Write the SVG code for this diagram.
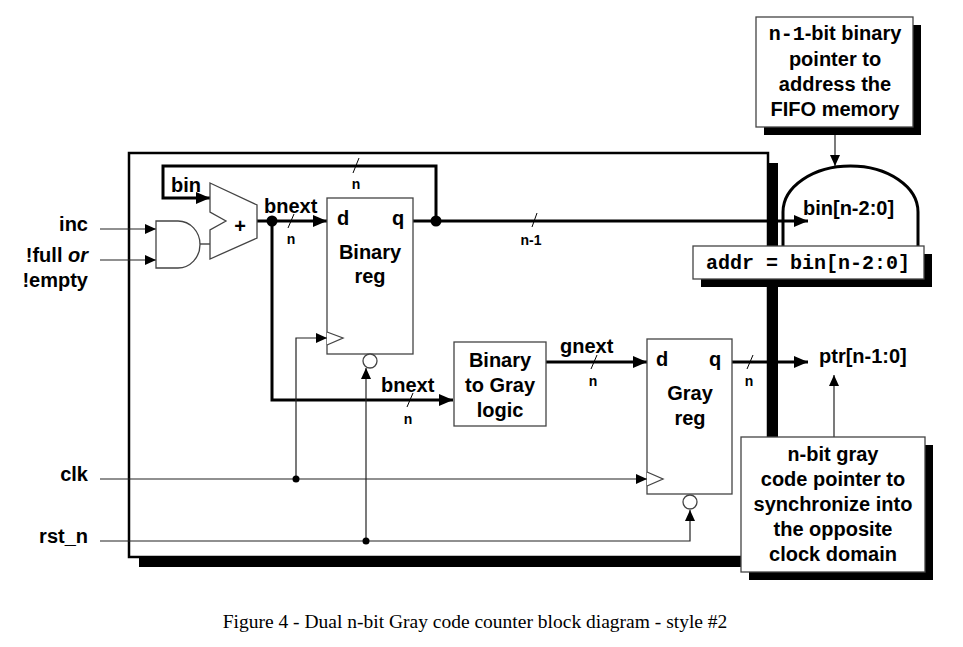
<svg xmlns="http://www.w3.org/2000/svg" width="963" height="647" viewBox="0 0 963 647">
<style>
.t{font-family:"Liberation Sans",Arial,sans-serif;font-weight:bold;font-size:20px;fill:#000}
.m{font-family:"Liberation Mono","Courier New",monospace;font-weight:bold;font-size:20px;fill:#000}
.s{font-family:"Liberation Sans",Arial,sans-serif;font-weight:bold;font-size:14px;fill:#000}
.c{font-family:"Liberation Serif","Times New Roman",serif;font-size:19.5px;fill:#000}
.box{fill:#fff;stroke:#444;stroke-width:1.3}
.thick{fill:none;stroke:#000;stroke-width:3}
.thin{fill:none;stroke:#222;stroke-width:1.2}
.sl{stroke:#000;stroke-width:1}
.sh{fill:#000}
</style>
<defs>
<marker id="ab" markerUnits="userSpaceOnUse" markerWidth="14" markerHeight="12" refX="14" refY="6" orient="auto"><path d="M0,0 L14,6 L0,12 z" fill="#000"/></marker>
<marker id="as" markerUnits="userSpaceOnUse" markerWidth="11" markerHeight="10" refX="11" refY="5" orient="auto"><path d="M0,0 L11,5 L0,10 z" fill="#000"/></marker>
</defs>
<rect width="963" height="647" fill="#fff"/>
<g id="frame">
<rect x="139" y="163" width="639" height="404" class="sh"/>
<rect x="129" y="153" width="639" height="404" fill="#fff" stroke="#000" stroke-width="2.5"/>
</g>
<g id="connectors">
<path class="thin" d="M100,229 H156" marker-end="url(#as)"/>
<path class="thin" d="M100,260 H156" marker-end="url(#as)"/>
<path class="thin" d="M195,244 H210"/>
<path class="thick" d="M436,221 V166 H163 V198 H210" marker-end="url(#ab)"/>
<path class="thick" d="M257,221 H327" marker-end="url(#ab)"/>
<path class="thick" d="M272,221 V400 H453" marker-end="url(#ab)"/>
<path class="thick" d="M413,221 H808" marker-end="url(#ab)"/>
<path class="thick" d="M546,362 H647" marker-end="url(#ab)"/>
<path class="thick" d="M732,362 H808" marker-end="url(#ab)"/>
<path class="thin" d="M100,479 H647" marker-end="url(#as)"/>
<path class="thin" d="M296,479 V338 H327" marker-end="url(#as)"/>
<path class="thin" d="M100,541 H690 V510" marker-end="url(#as)"/>
<path class="thin" d="M366,541 V368" marker-end="url(#as)"/>
<path class="thin" d="M835,127 V166" marker-end="url(#as)"/>
<path class="thin" d="M834,437 V375" marker-end="url(#as)"/>
<circle cx="436" cy="221" r="5.5" fill="#000"/>
<circle cx="272" cy="221" r="5.5" fill="#000"/>
<circle cx="296" cy="479" r="3.5" fill="#000"/>
<circle cx="366" cy="541" r="3.5" fill="#000"/>
<line class="sl" x1="359" y1="158" x2="353" y2="173"/>
<line class="sl" x1="294" y1="214" x2="288" y2="228"/>
<line class="sl" x1="537" y1="213" x2="532" y2="227"/>
<line class="sl" x1="413" y1="393" x2="407" y2="407"/>
<line class="sl" x1="597" y1="355" x2="591" y2="369"/>
<line class="sl" x1="753" y1="355" x2="747" y2="369"/>
<text class="s" x="356" y="189" text-anchor="middle">n</text>
<text class="s" x="291" y="244" text-anchor="middle">n</text>
<text class="s" x="531" y="245" text-anchor="middle">n-1</text>
<text class="s" x="408" y="424" text-anchor="middle">n</text>
<text class="s" x="593" y="386" text-anchor="middle">n</text>
<text class="s" x="749" y="386" text-anchor="middle">n</text>
<text class="t" x="171" y="192">bin</text>
<text class="t" x="264" y="213">bnext</text>
<text class="t" x="381" y="392">bnext</text>
<text class="t" x="560" y="353">gnext</text>
</g>
<g id="inputs">
<text class="t" x="88" y="231" text-anchor="end">inc</text>
<text class="t" x="88" y="262" text-anchor="end">!full <tspan font-style="italic">or</tspan></text>
<text class="t" x="88" y="287" text-anchor="end">!empty</text>
<text class="t" x="88" y="481" text-anchor="end">clk</text>
<text class="t" x="88" y="543" text-anchor="end">rst_n</text>
</g>
<g id="and-gate">
<path class="box" d="M156,221 H178 A22,23.5 0 0 1 178,268 H156 Z"/>
</g>
<g id="adder">
<path class="box" d="M210,183 L257,205 L257,238 L210,259 L210,230 L226,221 L210,212 Z"/>
<text class="t" x="240" y="233" text-anchor="middle">+</text>
</g>
<g id="binary-reg">
<rect class="box" x="327" y="198" width="86" height="156"/>
<path class="box" d="M327,332 L343,338 L327,345"/>
<circle class="box" cx="370" cy="361" r="7"/>
<text class="t" x="337" y="225">d</text>
<text class="t" x="392" y="225">q</text>
<text class="t" x="370" y="259" text-anchor="middle">Binary</text>
<text class="t" x="370" y="283" text-anchor="middle">reg</text>
</g>
<g id="bin2gray">
<rect class="box" x="454" y="342" width="92" height="84"/>
<text class="t" x="500" y="367" text-anchor="middle">Binary</text>
<text class="t" x="500" y="392" text-anchor="middle">to Gray</text>
<text class="t" x="500" y="417" text-anchor="middle">logic</text>
</g>
<g id="gray-reg">
<rect class="box" x="647" y="339" width="85" height="155"/>
<path class="box" d="M647,472 L663,479 L647,486"/>
<circle class="box" cx="690" cy="502" r="7"/>
<text class="t" x="656" y="366">d</text>
<text class="t" x="709" y="366">q</text>
<text class="t" x="690" y="400" text-anchor="middle">Gray</text>
<text class="t" x="690" y="425" text-anchor="middle">reg</text>
</g>
<g id="memory">
<path d="M783,250 V212 A67.5,46 0 0 1 918,212 V250" fill="none" stroke="#000" stroke-width="3"/>
<text class="t" x="803" y="215">bin[n-2:0]</text>
</g>
<g id="addr">
<rect x="701" y="254" width="231" height="33" class="sh"/>
<rect class="box" x="693" y="246" width="231" height="33"/>
<text class="m" x="808" y="269" text-anchor="middle">addr = bin[n-2:0]</text>
</g>
<g id="ptr">
<text class="t" x="819" y="363">ptr[n-1:0]</text>
</g>
<g id="note-top">
<rect x="764" y="25" width="157" height="110" class="sh"/>
<rect class="box" x="756" y="17" width="157" height="110"/>
<text class="t" x="835" y="40" text-anchor="middle"><tspan class="m" font-weight="normal">n-1</tspan>-bit binary</text>
<text class="t" x="835" y="66" text-anchor="middle">pointer to</text>
<text class="t" x="835" y="91" text-anchor="middle">address the</text>
<text class="t" x="835" y="116" text-anchor="middle">FIFO memory</text>
</g>
<g id="note-bottom">
<rect x="749" y="445" width="184" height="135" class="sh"/>
<rect class="box" x="741" y="437" width="184" height="135"/>
<text class="t" x="833" y="461" text-anchor="middle"><tspan class="m" font-weight="normal">n</tspan>-bit gray</text>
<text class="t" x="833" y="486" text-anchor="middle">code pointer to</text>
<text class="t" x="833" y="511" text-anchor="middle">synchronize into</text>
<text class="t" x="833" y="536" text-anchor="middle">the opposite</text>
<text class="t" x="833" y="561" text-anchor="middle">clock domain</text>
</g>
<text class="c" x="475" y="628" text-anchor="middle">Figure 4 - Dual n-bit Gray code counter block diagram - style #2</text>
</svg>
